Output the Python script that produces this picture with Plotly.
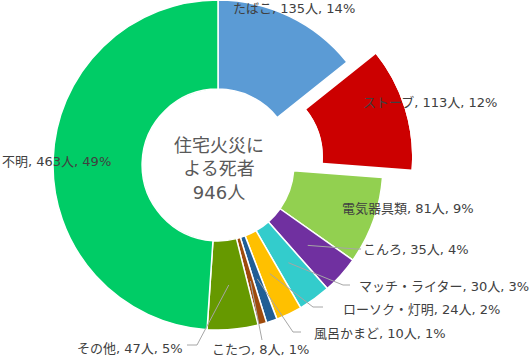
import numpy as np
import plotly.graph_objects as go

categories = ["たばこ", "ストーブ", "電気器具類", "こんろ", "マッチ・ライター",
              "ローソク・灯明", "風呂かまど", "こたつ", "その他", "不明"]
deaths = [135, 113, 81, 35, 30, 24, 10, 8, 47, 463]
percent_labels = [14, 12, 9, 4, 3, 2, 1, 1, 5, 49]
center_title = "住宅火災に<br>よる死者<br>946人"

colors = ["#5B9BD5", "#CC0000", "#92D050", "#7030A0", "#33CCCC",
          "#FFC000", "#215E95", "#9E4B0C", "#669900", "#00CC66"]
pulled = "ストーブ"

W, H = 530, 357
CX, CY, R = 218, 165, 165          # pie centre / radius (px)
HOLE = 0.46
PULL_DX, PULL_DY = 29, -8          # pulled slice offset (px)

# label anchor (px), anchor side -- layout only
label_pos = {
    "たばこ": (231, 8, "left"), "ストーブ": (361, 103, "left"),
    "電気器具類": (340, 208, "left"), "こんろ": (361, 250, "left"),
    "マッチ・ライター": (357, 286, "left"), "ローソク・灯明": (341, 309, "left"),
    "風呂かまど": (312, 333, "left"), "こたつ": (210, 349, "left"),
    "その他": (185, 348, "right"), "不明": (0, 162, "left"),
}
leaders = {  # elbow point, end point
    "こんろ": ((356, 249), (361, 249)),
    "マッチ・ライター": ((343, 285), (350, 285)),
    "ローソク・灯明": ((313, 307), (323, 307)),
    "風呂かまど": ((293, 332), (301, 332)),
    "こたつ": ((262, 340), (262, 340)),
    "その他": ((197, 345), (187, 345)),
}

def px(x):
    return x / W

def py(y):
    return 1 - y / H

total = sum(deaths)
cum = np.cumsum([0] + deaths)
start_deg = cum[:-1] / total * 360
end_deg = cum[1:] / total * 360
mid_deg = (start_deg + end_deg) / 2

pie_colors = [("rgba(0,0,0,0)" if c == pulled else col) for c, col in zip(categories, colors)]
line_colors = [("rgba(0,0,0,0)" if c == pulled else "white") for c in categories]

fig = go.Figure()
fig.add_trace(go.Pie(
    labels=categories, values=deaths, sort=False, direction="clockwise", rotation=0,
    hole=HOLE, textinfo="none", hoverinfo="skip", showlegend=False,
    marker=dict(colors=pie_colors, line=dict(color=line_colors, width=1.5)),
    domain=dict(x=[px(CX - R), px(CX + R)], y=[py(CY + R), min(1.0, py(CY - R))]),
))

# pulled slice in its own sector-limited polar subplot
i = categories.index(pulled)
s0 = 90 - end_deg[i] - 2
s1 = 90 - start_deg[i] + 2
a0 = s0 % 360
a1 = a0 + (s1 - s0)
cs = [np.cos(np.radians(a0)), np.cos(np.radians(a1))]
sn = [np.sin(np.radians(a0)), np.sin(np.radians(a1))]
x1 = 1 if (a0 <= 0 <= a1) or (a0 > 0 and a1 >= 360) else max(cs)
x0 = -1 if (a0 <= 180 <= a1) or (a0 > 180 and a1 >= 540) else (0 if min(cs) >= 0 else min(cs))
y1 = 1 if (a0 <= 90 <= a1) or (a0 > 90 and a1 >= 450) else (0 if max(sn) <= 0 else max(sn))
y0 = -1 if (a0 <= 270 <= a1) or (a0 > 270 and a1 >= 630) else (0 if min(sn) >= 0 else min(sn))
pcx, pcy = CX + PULL_DX, CY + PULL_DY
fig.add_trace(go.Barpolar(
    r=[1], theta=[mid_deg[i]], width=[end_deg[i] - start_deg[i]], base=[0],
    marker=dict(color=colors[i], line=dict(width=0)), hoverinfo="skip",
    showlegend=False, subplot="polar",
))
fig.update_layout(polar=dict(
    domain=dict(x=[px(pcx + R * x0), px(pcx + R * x1)],
                y=[py(pcy - R * y0), py(pcy - R * y1)]),
    sector=[s0, s1], hole=HOLE, bgcolor="rgba(0,0,0,0)",
    radialaxis=dict(range=[0, 1], visible=False),
    angularaxis=dict(rotation=90, direction="clockwise", visible=False),
))

FAMILY = "DejaVu Sans, Noto Sans CJK JP"
font = dict(family=FAMILY, size=13, color="#404040")
annotations = []
shapes = []
for k, cat in enumerate(categories):
    lx, ly, side = label_pos[cat]
    annotations.append(dict(
        x=px(lx), y=py(ly), xref="paper", yref="paper", showarrow=False,
        text=f"{cat}, {deaths[k]}人, {percent_labels[k]}%", font=font,
        xanchor=side, yanchor="middle",
    ))
    if cat in leaders:
        rr = R * (1 + HOLE) / 2
        ang = np.radians(mid_deg[k])
        ax_, ay_ = CX + rr * np.sin(ang), CY - rr * np.cos(ang)
        (ex, ey), (fx, fy) = leaders[cat]
        path = f"M {px(ax_)} {py(ay_)} L {px(ex)} {py(ey)} L {px(fx)} {py(fy)}"
        shapes.append(dict(type="path", path=path, xref="paper", yref="paper",
                           line=dict(color="#A6A6A6", width=1)))

annotations.append(dict(
    x=px(CX + 1), y=py(CY + 4), xref="paper", yref="paper", showarrow=False,
    text=center_title, xanchor="center", yanchor="middle",
    font=dict(family=FAMILY, size=18, color="#595959"),
))

fig.update_layout(
    width=W, height=H, margin=dict(l=0, r=0, t=0, b=0),
    paper_bgcolor="white", plot_bgcolor="white", showlegend=False,
    annotations=annotations, shapes=shapes,
)
fig.write_html("out.html", config={"displayModeBar": False},
               post_script="document.body.style.margin='0';document.body.style.overflow='hidden';")
